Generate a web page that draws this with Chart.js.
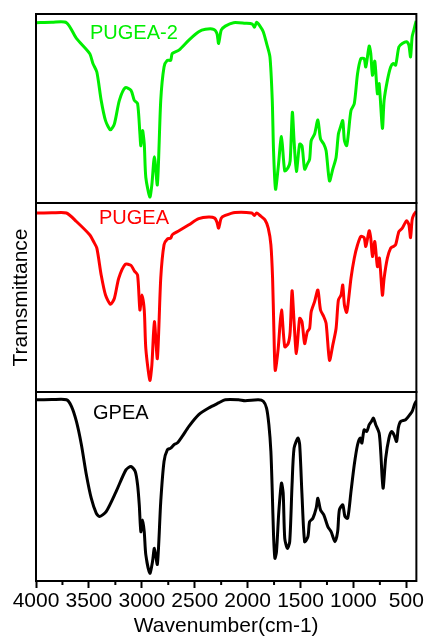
<!DOCTYPE html>
<html lang="en">
<head>
  <meta charset="UTF-8" />
  <title>FTIR spectra</title>
  <script src="https://cdn.jsdelivr.net/npm/chart.js"></script>
  <style>
    * { margin: 0; padding: 0; box-sizing: border-box; }
    body { background: #fff; width: 425px; height: 637px; overflow: hidden; }
    canvas { display: block; }
  </style>
</head>
<body>
  <canvas id="ftir" width="425" height="637"></canvas>

  <script>
    // x ticks (cm-1)
    const majorTicks = [4000, 3500, 3000, 2500, 2000, 1500, 1000, 500];
    const minorTicks = [3750, 3250, 2750, 2250, 1750, 1250, 750];

    // PUGEA-2 (top panel)
    const pugea2Wn = [4000, 3850, 3712, 3618, 3493, 3462, 3425, 3384, 3343, 3296, 3259, 3212, 3156, 3102, 3071, 3040, 3018, 3009, 2993, 2977, 2962, 2924, 2905, 2881, 2853, 2821, 2790, 2759, 2727, 2712, 2649, 2555, 2462, 2399, 2321, 2290, 2274, 2249, 2211, 2133, 2023, 1955, 1936, 1915, 1883, 1852, 1821, 1789, 1767, 1755, 1736, 1711, 1680, 1649, 1617, 1598, 1577, 1561, 1539, 1508, 1486, 1461, 1436, 1414, 1399, 1367, 1336, 1311, 1280, 1258, 1226, 1195, 1164, 1142, 1123, 1101, 1085, 1064, 1048, 1023, 992, 961, 930, 899, 883, 851, 836, 820, 798, 773, 757, 726, 710, 679, 648, 623, 601, 570, 538, 498, 476, 460, 445, 429, 407];
    const pugea2T  = [95.4, 95.6, 95.4, 87.1, 79.1, 73.8, 69.3, 54.3, 43.6, 38.7, 41.9, 54.3, 61.0, 59.6, 54.3, 52.7, 36.7, 30.3, 38.3, 31.4, 13.5, 3.2, 9.7, 24.5, 9.7, 54.3, 72.0, 75.5, 75.5, 79.1, 80.9, 86.2, 90.6, 91.9, 91.9, 89.7, 84.4, 91.5, 93.6, 95.4, 95.1, 94.7, 93.0, 95.6, 93.6, 90.6, 84.4, 77.3, 54.3, 27.7, 7.3, 18.8, 35.1, 17.0, 18.8, 22.3, 48.0, 33.0, 16.7, 31.2, 30.3, 17.9, 20.6, 23.2, 33.0, 36.5, 43.9, 33.9, 31.2, 27.7, 11.7, 17.9, 24.1, 36.5, 40.1, 43.6, 33.0, 30.3, 36.5, 48.9, 52.5, 68.4, 76.4, 76.4, 72.0, 83.0, 79.1, 67.6, 75.0, 57.8, 63.1, 39.5, 54.3, 64.9, 72.0, 73.8, 72.9, 82.6, 84.4, 85.3, 83.5, 77.3, 87.9, 91.5, 96.4];

    // PUGEA (middle panel)
    const pugeaWn = [4000, 3850, 3712, 3618, 3493, 3456, 3425, 3384, 3343, 3296, 3259, 3218, 3156, 3102, 3071, 3040, 3018, 3000, 2977, 2962, 2924, 2905, 2881, 2853, 2821, 2790, 2759, 2727, 2712, 2649, 2555, 2462, 2368, 2311, 2290, 2274, 2249, 2211, 2118, 1961, 1936, 1915, 1883, 1836, 1805, 1780, 1764, 1752, 1739, 1711, 1680, 1649, 1617, 1598, 1580, 1561, 1539, 1508, 1486, 1461, 1436, 1414, 1399, 1367, 1336, 1311, 1280, 1258, 1226, 1195, 1164, 1142, 1117, 1101, 1085, 1064, 1048, 1023, 992, 961, 930, 899, 883, 851, 836, 820, 798, 773, 754, 726, 710, 679, 648, 623, 601, 570, 538, 498, 476, 460, 445, 429, 407];
    const pugeaT  = [94.7, 94.8, 94.7, 90.2, 83.2, 79.6, 76.1, 61.9, 51.3, 46.4, 49.6, 60.2, 67.6, 67.0, 64.1, 61.9, 43.4, 51.3, 43.4, 23.0, 6.2, 14.2, 37.2, 17.7, 60.2, 77.9, 80.9, 81.4, 83.2, 85.3, 88.5, 91.7, 92.6, 92.0, 89.9, 86.7, 92.0, 93.4, 95.0, 94.7, 93.4, 94.7, 93.4, 91.1, 86.7, 77.9, 60.2, 33.6, 11.5, 23.0, 43.4, 23.9, 25.6, 31.8, 53.6, 37.2, 20.4, 39.0, 37.2, 25.6, 31.8, 33.6, 42.5, 47.8, 54.0, 43.4, 39.8, 36.3, 16.8, 24.8, 33.6, 48.7, 51.3, 56.6, 46.0, 42.1, 47.8, 60.2, 70.8, 77.9, 82.3, 81.7, 77.0, 85.3, 81.4, 71.7, 79.6, 66.3, 70.8, 51.3, 60.2, 70.8, 76.1, 77.0, 77.9, 84.9, 86.7, 90.6, 88.5, 81.7, 91.1, 93.8, 95.5];

    // GPEA (bottom panel)
    const gpeaWn = [4000, 3850, 3712, 3665, 3618, 3571, 3524, 3478, 3431, 3400, 3337, 3243, 3150, 3102, 3062, 3040, 3024, 3009, 2993, 2977, 2962, 2924, 2899, 2881, 2853, 2821, 2790, 2759, 2727, 2696, 2665, 2618, 2555, 2462, 2368, 2274, 2211, 2086, 2023, 1899, 1852, 1821, 1799, 1780, 1767, 1755, 1742, 1727, 1705, 1680, 1664, 1649, 1624, 1602, 1580, 1561, 1524, 1508, 1486, 1461, 1430, 1414, 1383, 1352, 1336, 1311, 1280, 1242, 1211, 1174, 1149, 1133, 1101, 1080, 1054, 1023, 992, 961, 936, 920, 899, 874, 851, 830, 811, 789, 757, 742, 720, 695, 664, 639, 617, 592, 576, 554, 507, 467, 445, 423, 404];
    const gpeaT  = [95.9, 96.0, 95.9, 92.4, 84.4, 72.1, 56.2, 43.8, 35.9, 34.1, 36.7, 47.3, 58.8, 60.6, 57.9, 50.9, 40.3, 26.1, 32.3, 26.1, 13.8, 4.1, 10.2, 17.3, 8.8, 42.0, 63.2, 69.4, 70.3, 72.1, 73.0, 76.5, 81.8, 88.0, 91.5, 94.2, 95.9, 95.9, 95.4, 95.9, 95.1, 91.5, 82.7, 68.5, 47.3, 24.4, 12.0, 15.6, 36.7, 51.8, 46.6, 22.6, 17.3, 20.8, 50.9, 70.3, 75.6, 72.1, 45.6, 20.8, 23.5, 31.4, 33.2, 38.5, 43.8, 37.6, 35.0, 28.8, 26.1, 20.8, 26.1, 37.6, 40.3, 34.1, 33.2, 47.3, 61.5, 72.1, 75.6, 73.0, 80.0, 79.1, 82.7, 84.4, 86.2, 82.7, 78.3, 68.5, 49.1, 65.0, 75.6, 79.1, 77.4, 73.8, 80.9, 84.4, 85.3, 88.0, 89.7, 93.3, 95.4];

    const series = [
      { label: 'PUGEA-2', wn: pugea2Wn, t: pugea2T, color: '#00ee00', axis: 'yTop' },
      { label: 'PUGEA',   wn: pugeaWn,  t: pugeaT,  color: '#ff0000', axis: 'yMid' },
      { label: 'GPEA',    wn: gpeaWn,   t: gpeaT,   color: '#000000', axis: 'yBot' }
    ];

    const toPoints = (wn, t) => wn.map((x, i) => ({ x: x, y: t[i] }));

    const FONT = '"Liberation Sans", Arial, sans-serif';

    // frames around panels, minor ticks and panel names
    const panelPlugin = {
      id: 'panels',
      afterDraw(chart) {
        const ctx = chart.ctx;
        const area = chart.chartArea;
        const xs = chart.scales.x;
        ctx.save();
        ctx.strokeStyle = '#000';
        ctx.lineWidth = 2;
        ['yTop', 'yMid', 'yBot'].forEach(id => {
          const s = chart.scales[id];
          ctx.strokeRect(area.left, s.top, area.right - area.left, s.bottom - s.top);
        });
        ctx.beginPath();
        minorTicks.forEach(v => {
          const px = xs.getPixelForValue(v);
          ctx.moveTo(px, area.bottom);
          ctx.lineTo(px, area.bottom + 4);
        });
        ctx.stroke();

        ctx.font = '20px ' + FONT;
        ctx.textBaseline = 'middle';
        ctx.textAlign = 'left';
        const offs = { yTop: [54, 19], yMid: [63, 15], yBot: [57, 21] };
        series.forEach(s => {
          const sc = chart.scales[s.axis];
          ctx.fillStyle = s.color;
          ctx.fillText(s.label, area.left + offs[s.axis][0], sc.top + offs[s.axis][1]);
        });
        ctx.restore();
      }
    };

    const yAxis = (title) => ({
      type: 'linear',
      position: 'left',
      stack: 'ftir',
      stackWeight: 1,
      min: 0,
      max: 100,
      grid: { display: false },
      border: { display: false },
      ticks: { display: false },
      title: {
        display: !!title,
        text: title || '',
        color: '#000',
        font: { family: FONT, size: 21 },
        padding: { top: 9, bottom: 0 }
      },
      afterFit(scale) { scale.width = 36; }
    });

    new Chart(document.getElementById('ftir'), {
      type: 'line',
      data: {
        datasets: series.map(s => ({
          label: s.label,
          data: toPoints(s.wn, s.t),
          borderColor: s.color,
          borderWidth: 3,
          pointRadius: 0,
          tension: 0.25,
          fill: false,
          yAxisID: s.axis
        }))
      },
      options: {
        responsive: false,
        animation: false,
        devicePixelRatio: 1,
        layout: { padding: { top: 14, right: 6, left: 0, bottom: 0 } },
        plugins: { legend: { display: false }, tooltip: { enabled: false } },
        scales: {
          x: {
            type: 'linear',
            reverse: true,
            min: 405,
            max: 4000,
            grid: { display: true, drawOnChartArea: false, drawTicks: true, tickLength: 7, tickWidth: 2, tickColor: '#000' },
            border: { display: false },
            afterBuildTicks(scale) { scale.ticks = majorTicks.map(v => ({ value: v })); },
            ticks: { color: '#000', font: { family: FONT, size: 21 }, padding: 1, maxRotation: 0, autoSkip: false, callback: v => String(v) },
            title: { display: true, text: 'Wavenumber(cm-1)', color: '#000', font: { family: FONT, size: 21, lineHeight: 1.0 }, padding: { top: 0, bottom: 0 } },
            afterFit(scale) { scale.height = 56; }
          },
          yBot: yAxis(''),
          yMid: yAxis('Tramsmittance'),
          yTop: yAxis('')
        }
      },
      plugins: [panelPlugin]
    });
  </script>
</body>
</html>
